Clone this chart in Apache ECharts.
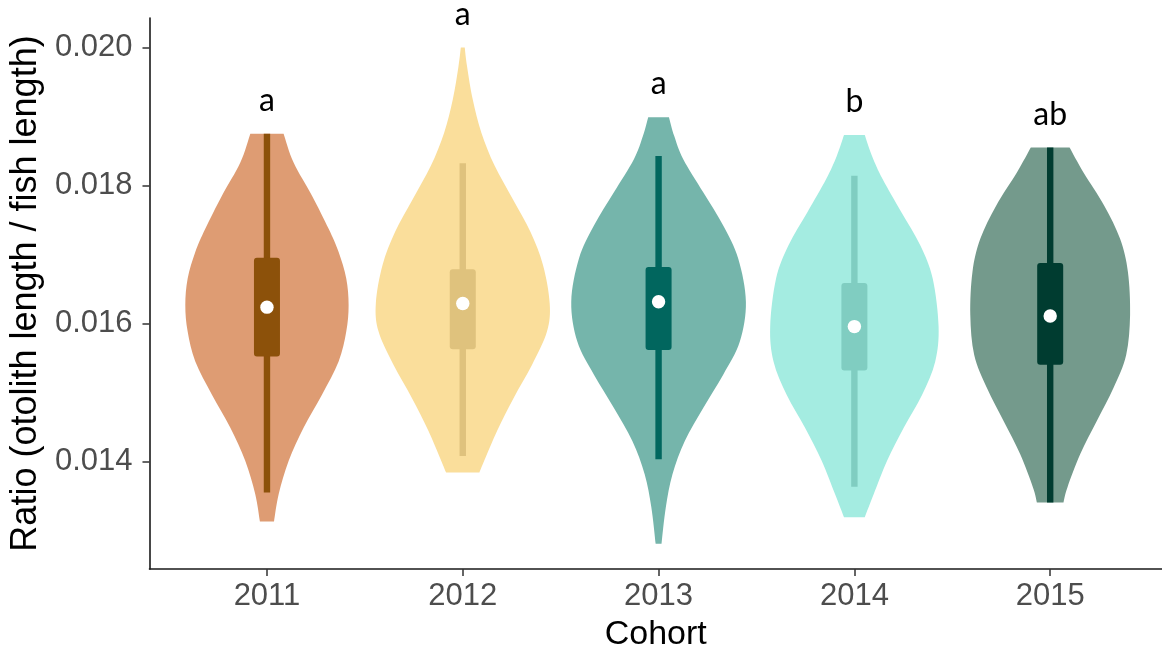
<!DOCTYPE html>
<html>
<head>
<meta charset="utf-8">
<script src="https://cdn.jsdelivr.net/npm/echarts@6/dist/echarts.min.js"></script>
<style>
  html, body { margin: 0; padding: 0; background: #ffffff; }
  #chart { width: 1162px; height: 657px; }
</style>
</head>
<body>
<div id="chart"></div>
<script>
// Cohorts on the x axis and the significance letters above each violin
const cohorts = ['2011', '2012', '2013', '2014', '2015'];
const letters = ['a', 'a', 'a', 'b', 'ab'];

// Box summaries: [lower whisker, Q1, median, Q3, upper whisker]
const box2011 = [0.013552, 0.015524, 0.016239, 0.016956, 0.018755];
const box2012 = [0.014082, 0.015629, 0.016293, 0.016788, 0.018326];
const box2013 = [0.014033, 0.015619, 0.016317, 0.016822, 0.018432];
const box2014 = [0.013635, 0.015322, 0.015957, 0.016591, 0.018143];
const box2015 = [0.013408, 0.015403, 0.016110, 0.016880, 0.018553];

// Violin outlines, top to bottom: [ratio, half width in cohort units]
const violin2011 = [
  [0.018755, 0.085], [0.018337, 0.136], [0.017855, 0.230], [0.017375, 0.315],
  [0.017038, 0.366], [0.016653, 0.405], [0.016268, 0.417], [0.015885, 0.405],
  [0.015452, 0.366], [0.014970, 0.281], [0.014490, 0.187], [0.014010, 0.111],
  [0.013528, 0.060], [0.013130, 0.036]
];
const violin2012 = [
  [0.020004, 0.010], [0.019730, 0.022], [0.019250, 0.051], [0.018769, 0.095],
  [0.018288, 0.163], [0.017807, 0.255], [0.017327, 0.346], [0.016845, 0.410],
  [0.016293, 0.444], [0.015885, 0.430], [0.015403, 0.354], [0.014923, 0.260],
  [0.014442, 0.175], [0.013841, 0.085]
];
const violin2013 = [
  [0.018994, 0.053], [0.018720, 0.080], [0.018384, 0.126], [0.017904, 0.228],
  [0.017422, 0.330], [0.016942, 0.407], [0.016317, 0.446], [0.015740, 0.415],
  [0.015259, 0.330], [0.014778, 0.228], [0.014298, 0.134], [0.013816, 0.071],
  [0.013336, 0.037], [0.012807, 0.015]
];
const violin2014 = [
  [0.018735, 0.053], [0.018432, 0.090], [0.018096, 0.144], [0.017615, 0.240],
  [0.017134, 0.337], [0.016653, 0.400], [0.015957, 0.430], [0.015452, 0.413],
  [0.014970, 0.346], [0.014490, 0.252], [0.014010, 0.167], [0.013528, 0.099],
  [0.013192, 0.053]
];
const violin2015 = [
  [0.018553, 0.099], [0.018192, 0.170], [0.017711, 0.276], [0.017230, 0.357],
  [0.016750, 0.397], [0.016124, 0.408], [0.015547, 0.388], [0.015067, 0.323],
  [0.014587, 0.238], [0.014105, 0.153], [0.013625, 0.088], [0.013408, 0.068]
];

// Tick values on the ratio axis
const yTicks = [0.014, 0.016, 0.018, 0.020];

const boxes = [box2011, box2012, box2013, box2014, box2015];
const violins = [violin2011, violin2012, violin2013, violin2014, violin2015];
const violinFills = ['#DE9C73', '#FADE9B', '#75B5AB', '#A4ECE1', '#749A8C'];
const boxFills = ['#8C510A', '#DFC27D', '#01665E', '#80CDC1', '#003C30'];

// Smooth curve through pixel points (Catmull-Rom as cubic Beziers), starting at pts[0]
function curveThrough(pts) {
  let d = '';
  const n = pts.length;
  for (let i = 0; i < n - 1; i++) {
    const p0 = pts[Math.max(i - 1, 0)];
    const p1 = pts[i];
    const p2 = pts[i + 1];
    const p3 = pts[Math.min(i + 2, n - 1)];
    const c1x = p1[0] + (p2[0] - p0[0]) / 6;
    const c1y = p1[1] + (p2[1] - p0[1]) / 6;
    const c2x = p2[0] - (p3[0] - p1[0]) / 6;
    const c2y = p2[1] - (p3[1] - p1[1]) / 6;
    d += ' C' + c1x + ',' + c1y + ' ' + c2x + ',' + c2y + ' ' + p2[0] + ',' + p2[1];
  }
  return d;
}

function renderViolin(params, api) {
  const i = params.dataIndex;
  const x = i + 1;
  const outline = violins[i];
  const stats = boxes[i];
  const cx = api.coord([x, stats[2]])[0];

  const left = outline.map(p => api.coord([x - p[1], p[0]]));
  const right = outline.map(p => api.coord([x + p[1], p[0]])).reverse();
  let d = 'M' + left[0][0] + ',' + left[0][1] + curveThrough(left);
  d += ' L' + right[0][0] + ',' + right[0][1] + curveThrough(right) + ' Z';

  const yLow = api.coord([x, stats[0]])[1];
  const yQ1 = api.coord([x, stats[1]])[1];
  const yMed = api.coord([x, stats[2]])[1];
  const yQ3 = api.coord([x, stats[3]])[1];
  const yHigh = api.coord([x, stats[4]])[1];
  const yTop = api.coord([x, outline[0][0]])[1];

  const whiskerW = 6.4;
  const boxW = 26;

  return {
    type: 'group',
    children: [
      { type: 'path', shape: { pathData: d }, style: { fill: violinFills[i] } },
      { type: 'rect', shape: { x: cx - whiskerW / 2, y: yHigh, width: whiskerW, height: yLow - yHigh },
        style: { fill: boxFills[i] } },
      { type: 'rect', shape: { x: cx - boxW / 2, y: yQ3, width: boxW, height: yQ1 - yQ3, r: 3 },
        style: { fill: boxFills[i] } },
      { type: 'circle', shape: { cx: cx, cy: yMed, r: 6.7 }, style: { fill: '#ffffff' } },
      { type: 'text', x: cx, y: yTop - 33,
        style: { text: letters[i], fill: '#000000', fontSize: 32, fontFamily: 'Lato',
                 align: 'center', verticalAlign: 'middle' } }
    ]
  };
}

const chart = echarts.init(document.getElementById('chart'), null, { renderer: 'canvas' });

chart.setOption({
  animation: false,
  backgroundColor: '#ffffff',
  grid: { left: 149, right: 0, top: 18, bottom: 85, containLabel: false },
  xAxis: {
    type: 'value',
    min: 0.4,
    max: 5.571,
    name: 'Cohort',
    nameLocation: 'middle',
    nameGap: 49,
    nameTextStyle: { color: '#000000', fontSize: 34, fontFamily: 'Liberation Sans' },
    axisLine: { show: true, onZero: false, lineStyle: { color: '#1a1a1a', width: 1.6 } },
    axisTick: { show: true, length: 7, customValues: [1, 2, 3, 4, 5],
                lineStyle: { color: '#333333', width: 1.5 } },
    axisLabel: { show: true, customValues: [1, 2, 3, 4, 5], margin: 12,
                 formatter: v => cohorts[Math.round(v) - 1],
                 color: '#4D4D4D', fontSize: 31, fontFamily: 'Liberation Sans' },
    splitLine: { show: false }
  },
  yAxis: {
    type: 'value',
    min: 0.012442,
    max: 0.020432,
    name: 'Ratio (otolith length / fish length)',
    nameLocation: 'middle',
    nameGap: 104,
    nameTextStyle: { color: '#000000', fontSize: 36, fontFamily: 'Liberation Sans' },
    axisLine: { show: true, onZero: false, lineStyle: { color: '#1a1a1a', width: 1.6 } },
    axisTick: { show: true, length: 7, customValues: yTicks,
                lineStyle: { color: '#333333', width: 1.5 } },
    axisLabel: { show: true, customValues: yTicks, margin: 17,
                 formatter: v => v.toFixed(3),
                 color: '#4D4D4D', fontSize: 31, fontFamily: 'Liberation Sans' },
    splitLine: { show: false }
  },
  series: [{
    type: 'custom',
    coordinateSystem: 'cartesian2d',
    renderItem: renderViolin,
    clip: false,
    encode: { x: 0, y: 1 },
    data: cohorts.map((c, i) => [i + 1, boxes[i][2]])
  }]
});
</script>
</body>
</html>
